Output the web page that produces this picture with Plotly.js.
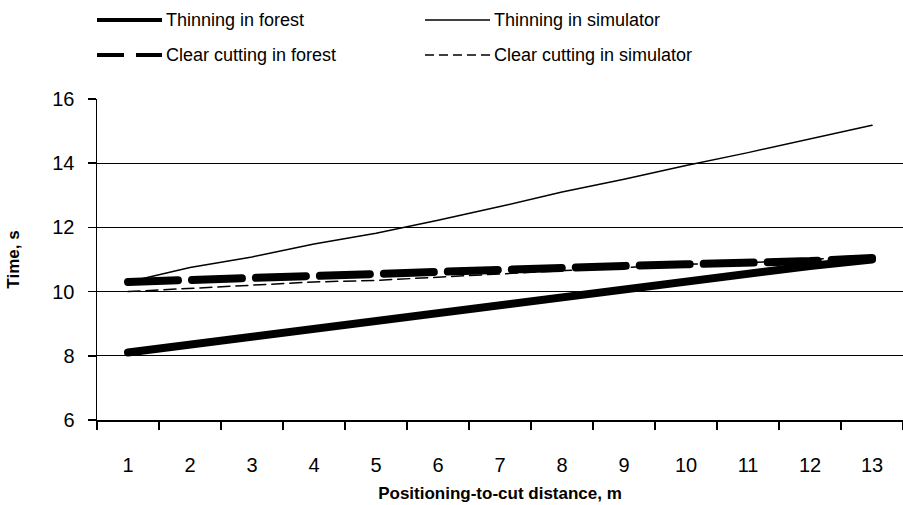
<!DOCTYPE html>
<html>
<head>
<meta charset="utf-8">
<script src="https://cdn.plot.ly/plotly-3.0.1.min.js"></script>
<style>
  html, body { margin: 0; padding: 0; background: #fff; }
  #chart { width: 903px; height: 505px; }
  .scatterlayer .js-line { stroke-linecap: round; stroke-linejoin: round; }
</style>
</head>
<body>
<div id="chart"></div>
<script>
// ---- data ----
const distances = ["1","2","3","4","5","6","7","8","9","10","11","12","13"];
const thinningForest    = [8.1, 8.35, 8.6, 8.85, 9.1, 9.35, 9.6, 9.85, 10.1, 10.35, 10.6, 10.8, 11.0];
const thinningSimulator = [10.3, 10.75, 11.08, 11.48, 11.82, 12.22, 12.65, 13.1, 13.5, 13.93, 14.33, 14.75, 15.18];
const clearForest       = [10.3, 10.37, 10.43, 10.5, 10.56, 10.62, 10.68, 10.74, 10.8, 10.85, 10.88, 10.95, 11.05];
const clearSimulator    = [10.0, 10.1, 10.2, 10.3, 10.35, 10.45, 10.55, 10.65, 10.75, 10.85, 10.9, 11.0, 11.1];
const seriesNames = ["Thinning in forest", "Thinning in simulator", "Clear cutting in forest", "Clear cutting in simulator"];
const yTicks = [6, 8, 10, 12, 14, 16];

const FONT = "Liberation Sans, Arial, sans-serif";

const traces = [
  {x: distances, y: thinningForest, name: seriesNames[0], mode: "lines",
   line: {color: "#000", width: 8}},
  {x: distances, y: thinningSimulator, name: seriesNames[1], mode: "lines",
   line: {color: "#000", width: 1.5}},
  {x: distances, y: clearForest, name: seriesNames[2], mode: "lines",
   line: {color: "#000", width: 8, dash: "50px,14px"}},
  {x: distances, y: clearSimulator, name: seriesNames[3], mode: "lines",
   line: {color: "#000", width: 1.5, dash: "12px,6px"}}
];

// plot area in pixels
const L = 97, R = 0, T = 99, B = 85, W = 903, H = 505;
const pw = W - L - R, ph = H - T - B;
const px = v => (v - L) / pw;
const py = v => (H - B - v) / ph;

// custom legend (samples + labels)
const legendItems = [
  {row: 20, x0: 97, x1: 162, width: 4, dash: "solid", label: seriesNames[0]},
  {row: 20, x0: 425, x1: 490, width: 1.5, dash: "solid", label: seriesNames[1]},
  {row: 55, x0: 97, x1: 162, width: 4, dash: "27px,12px", label: seriesNames[2]},
  {row: 55, x0: 425, x1: 490, width: 1.5, dash: "9px,5px", label: seriesNames[3]}
];
const shapes = legendItems.map(it => ({
  type: "line", xref: "paper", yref: "paper",
  x0: px(it.x0), x1: px(it.x1), y0: py(it.row), y1: py(it.row),
  line: {color: "#000", width: it.width, dash: it.dash}
}));
const annotations = legendItems.map(it => ({
  xref: "paper", yref: "paper", x: px(it.x1 + 2), y: py(it.row),
  xanchor: "left", yanchor: "middle", showarrow: false,
  text: it.label, font: {family: FONT, size: 18, color: "#000"}
}));

const layout = {
  width: W, height: H,
  margin: {l: L, r: R, t: T, b: B},
  paper_bgcolor: "#fff", plot_bgcolor: "#fff",
  showlegend: false,
  font: {family: FONT, color: "#000"},
  xaxis: {
    type: "category",
    range: [-0.5, 12.5],
    tickson: "boundaries",
    ticks: "outside", ticklen: 8, tickwidth: 1.5, tickcolor: "#000",
    showline: true, linecolor: "#000", linewidth: 1.5,
    showgrid: false, zeroline: false,
    tickfont: {family: FONT, size: 20, color: "#000"},
    ticklabelstandoff: 26,
    title: {text: "Positioning-to-cut distance, m", font: {family: FONT, size: 17, color: "#000", weight: "bold"}, standoff: 12},
    fixedrange: true
  },
  yaxis: {
    range: [6, 16], tickvals: yTicks, ticktext: yTicks.map(String),
    ticks: "outside", ticklen: 8, tickwidth: 1.5, tickcolor: "#000",
    showline: true, linecolor: "#000", linewidth: 1.5,
    showgrid: true, gridcolor: "#000", gridwidth: 1.2,
    zeroline: false,
    tickfont: {family: FONT, size: 20, color: "#000"},
    ticklabelstandoff: 9,
    title: {text: "Time, s", font: {family: FONT, size: 17, color: "#000", weight: "bold"}, standoff: 28},
    fixedrange: true
  },
  shapes: shapes,
  annotations: annotations
};

Plotly.newPlot("chart", traces, layout, {displayModeBar: false, staticPlot: true});
</script>
</body>
</html>
